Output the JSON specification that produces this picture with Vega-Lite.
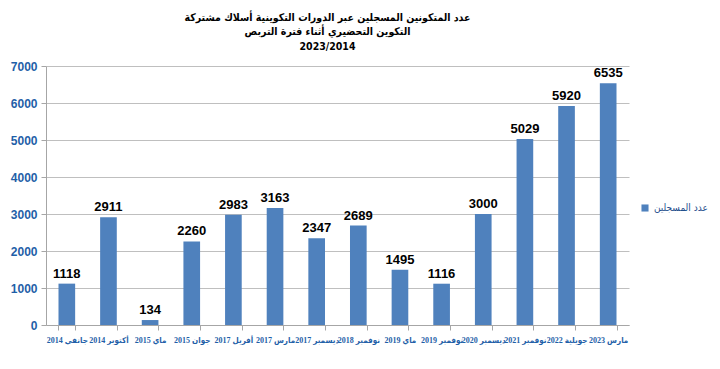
{
  "$schema": "https://vega.github.io/schema/vega-lite/v6.json",
  "autosize": {"type": "none"},
  "width": 583,
  "height": 259,
  "padding": {"left": 46, "top": 66, "right": 91, "bottom": 44},
  "background": "white",
  "title": {
    "text": ["عدد المتكونين المسجلين عبر الدورات التكوينية  أسلاك مشتركة", "التكوين التحضيري أثناء فترة التربص", "2023/2014"],
    "anchor": "middle",
    "fontSize": 10.5,
    "fontWeight": "bold",
    "font": "DejaVu Sans Condensed",
    "color": "black",
    "lineHeight": 14.5,
    "offset": 8,
    "dx": -10
  },
  "data": {
    "values": [
      {"period": "جانفي 2014", "value": 1118, "series": "عدد المسجلين"},
      {"period": "أكتوبر 2014", "value": 2911, "series": "عدد المسجلين"},
      {"period": "ماي 2015", "value": 134, "series": "عدد المسجلين"},
      {"period": "جوان 2015", "value": 2260, "series": "عدد المسجلين"},
      {"period": "أفريل 2017", "value": 2983, "series": "عدد المسجلين"},
      {"period": "مارس 2017", "value": 3163, "series": "عدد المسجلين"},
      {"period": "ديسمبر 2017", "value": 2347, "series": "عدد المسجلين"},
      {"period": "نوفمبر 2018", "value": 2689, "series": "عدد المسجلين"},
      {"period": "ماي 2019", "value": 1495, "series": "عدد المسجلين"},
      {"period": "نوفمبر 2019", "value": 1116, "series": "عدد المسجلين"},
      {"period": "ديسمبر 2020", "value": 3000, "series": "عدد المسجلين"},
      {"period": "نوفمبر 2021", "value": 5029, "series": "عدد المسجلين"},
      {"period": "جويلية 2022", "value": 5920, "series": "عدد المسجلين"},
      {"period": "مارس 2023", "value": 6535, "series": "عدد المسجلين"}
    ]
  },
  "encoding": {
    "x": {
      "field": "period",
      "type": "nominal",
      "sort": null,
      "title": null,
      "scale": {"paddingInner": 0.6, "paddingOuter": 0.3},
      "axis": {
        "labelAngle": 0,
        "labelFont": "Liberation Serif, DejaVu Sans Condensed",
        "labelFontWeight": "bold",
        "labelFontSize": 8,
        "labelColor": "#1F5FA8",
        "labelPadding": 6,
        "tickBand": "extent",
        "tickColor": "#A6A6A6",
        "tickSize": 5,
        "domainColor": "#A6A6A6",
        "labelOverlap": false
      }
    },
    "y": {
      "field": "value",
      "type": "quantitative",
      "title": null,
      "scale": {"domain": [0, 7000]},
      "axis": {
        "values": [0, 1000, 2000, 3000, 4000, 5000, 6000, 7000],
        "format": "d",
        "labelFont": "Liberation Sans",
        "labelFontWeight": "bold",
        "labelFontSize": 12,
        "labelColor": "#1F5FA8",
        "labelPadding": 4,
        "tickColor": "#A6A6A6",
        "tickSize": 5,
        "domainColor": "#A6A6A6",
        "gridColor": "#BFBFBF",
        "gridWidth": 1
      }
    }
  },
  "layer": [
    {
      "mark": {"type": "bar", "color": "#4F81BD"},
      "encoding": {
        "color": {
          "field": "series",
          "type": "nominal",
          "scale": {"range": ["#4F81BD"]},
          "legend": {
            "title": null,
            "orient": "none",
            "legendX": 594,
            "legendY": 137,
            "symbolType": "square",
            "symbolSize": 50,
            "labelFont": "DejaVu Sans Condensed",
            "labelFontSize": 10,
            "labelFontWeight": "normal",
            "labelColor": "#1F4E8C",
            "labelLimit": 200
          }
        }
      }
    },
    {
      "mark": {"type": "text", "dy": -10, "font": "Liberation Sans", "fontWeight": "bold", "fontSize": 13, "color": "black"},
      "encoding": {"text": {"field": "value", "type": "quantitative", "format": "d"}}
    }
  ],
  "config": {"view": {"stroke": null}}
}
